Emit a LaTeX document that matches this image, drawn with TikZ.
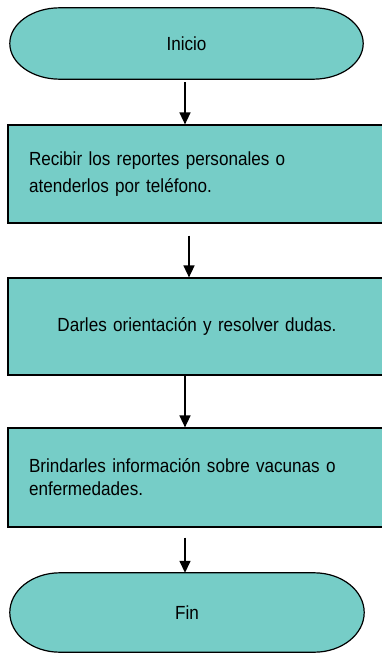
\documentclass[tikz,border=0pt]{standalone}
\usepackage{fontspec}
\setmainfont{Liberation Sans}[FakeStretch=0.9]
\usepackage{xcolor}
\usetikzlibrary{arrows.meta, positioning, backgrounds, calc}

\definecolor{tealfill}{RGB}{118,205,199}

\begin{document}
\begin{tikzpicture}[
    x=1pt, y=1pt,
    term/.style={rectangle, minimum width=353pt, minimum height=71pt, inner sep=0pt, align=center, font=\fontsize{19}{24}\selectfont},
    termline/.style={draw=black, line width=1.2pt, fill=tealfill},
    stepbox/.style={rectangle, draw=black, line width=1.2pt, fill=tealfill, minimum width=378pt, text width=336pt, inner xsep=21pt, font=\fontsize{19}{23}\selectfont},
    arr/.style={-{Triangle[length=12pt, width=11pt]}, line width=1.5pt}
]
\useasboundingbox (0,0) rectangle (382,-655);

\node[term] (inicio) at (186.5,-43.5) {Inicio};
\node[stepbox, minimum height=98pt, align=left] (recibir) at (197,-174) {Recibir los reportes personales o\\[4pt]atenderlos por teléfono.};
\node[stepbox, minimum height=97pt, align=center] (orientar) at (197,-326.5) {Darles orientación y resolver dudas.};
\node[stepbox, minimum height=99pt, align=left] (brindar) at (197,-477.5) {Brindarles información sobre vacunas o\\enfermedades.};
\node[term, minimum width=354pt, minimum height=79pt] (fin) at (187,-612.5) {Fin};

% terminal outlines with elliptic ends
\begin{scope}[on background layer]
\foreach \t in {inicio,fin}
  \draw[termline] let \p1 = ($(\t.north)-(\t.south)$) in
    ([xshift=50pt]\t.north west) -- ([xshift=-50pt]\t.north east)
    arc[start angle=90, end angle=-90, x radius=50pt, y radius=0.5*\y1]
    -- ([xshift=50pt]\t.south west)
    arc[start angle=270, end angle=90, x radius=50pt, y radius=0.5*\y1] -- cycle;
\end{scope}

\draw[arr] ([xshift=-1.5pt, yshift=-3pt]inicio.south) -- ([xshift=-1.5pt]inicio.south |- recibir.north);
\draw[arr] ([xshift=-8pt, yshift=-12pt]recibir.south) -- ([xshift=-8pt]recibir.south |- orientar.north);
\draw[arr] ([xshift=-12pt]orientar.south) -- ([xshift=-12pt]orientar.south |- brindar.north);
\draw[arr] ([xshift=-12pt, yshift=-10pt]brindar.south) -- ([xshift=-12pt]brindar.south |- fin.north);
\end{tikzpicture}
\end{document}
